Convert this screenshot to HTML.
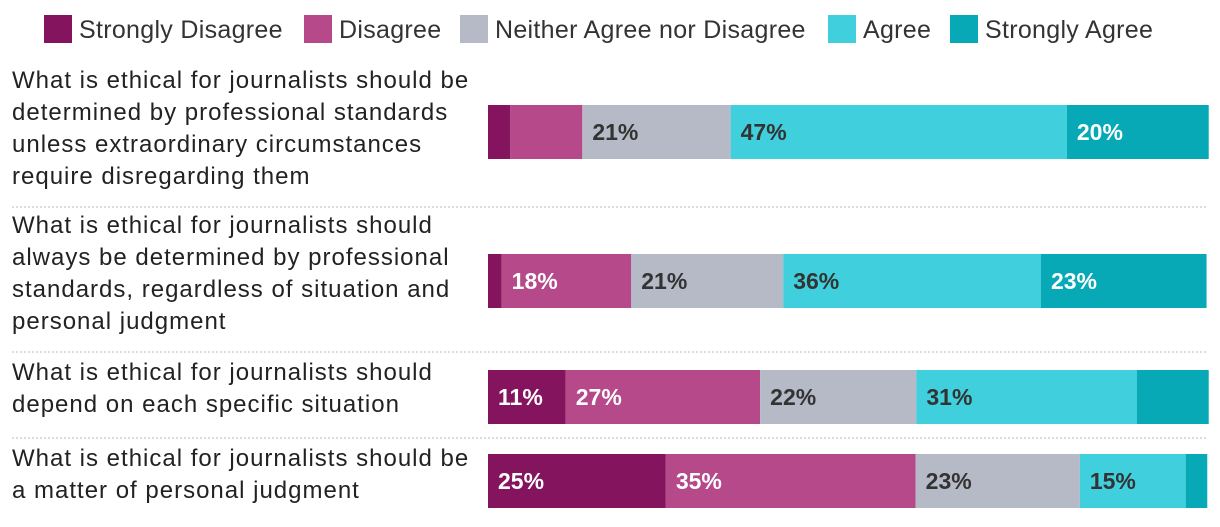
<!DOCTYPE html>
<html><head><meta charset="utf-8"><style>
body{margin:0;background:#fff;width:1220px;height:522px;overflow:hidden;font-family:"Liberation Sans",sans-serif;}
</style></head><body>
<svg width="1220" height="522" id="chart" xmlns="http://www.w3.org/2000/svg"></svg>
<script>
const categories=["Strongly Disagree","Disagree","Neither Agree nor Disagree","Agree","Strongly Agree"];
const questions=[
["What is ethical for journalists should be","determined by professional standards","unless extraordinary circumstances","require disregarding them"],
["What is ethical for journalists should","always be determined by professional","standards, regardless of situation and","personal judgment"],
["What is ethical for journalists should","depend on each specific situation"],
["What is ethical for journalists should be","a matter of personal judgment"]];
const sdVals=[3.1,1.9,10.8,24.7];
const dVals=[10,18,27,34.7];
const nVals=[20.6,21.1,21.7,22.8];
const aVals=[46.7,35.8,30.6,14.7];
const saVals=[19.7,23,10,3];
const labels=[["","","21%","47%","20%"],["","18%","21%","36%","23%"],["11%","27%","22%","31%",""],["25%","35%","23%","15%",""]];
const colors=["#85145e","#b5498a","#b5bac6","#40cfdc","#06a9b5"];
const textColors=["#fff","#fff","#333","#333","#fff"];
const barTops=[105,254,370,454];
const textTops=[88,233,380,466];
const seps=[207,352,438];
const svg=document.getElementById('chart');
const NS="http://www.w3.org/2000/svg";
function mk(t,a){const e=document.createElementNS(NS,t);for(const k in a)e.setAttribute(k,a[k]);svg.appendChild(e);return e;}
const x0=488,W=720,bh=54;
function xs(v){return v/100*W;}
const legX=[44,304,460,828,950];
categories.forEach((c,i)=>{
 const r=mk('rect',{x:legX[i],y:15,width:28,height:28,fill:colors[i]});
 
 
 const t=mk('text',{x:legX[i]+35,y:38,'font-size':25,fill:'#333','letter-spacing':0.3});t.textContent=c;
 
 
});
seps.forEach(y=>{const l=mk('line',{x1:12,x2:1208,y1:y,y2:y,stroke:'#bbb','stroke-dasharray':'2,2'});
 
 });
const series=[sdVals,dVals,nVals,aVals,saVals];
questions.forEach((q,r)=>{
 q.forEach((line,j)=>{const t=mk('text',{x:12,y:textTops[r]+j*32,'font-size':24,fill:'#222','letter-spacing':1});t.textContent=line;
  
  });
 let x=x0;
 series.forEach((s,i)=>{
  const w=xs(s[r]);
  const b=mk('rect',{x:x,y:barTops[r],width:w,height:bh,fill:colors[i]});
  
  
  if(labels[r][i]){const t=mk('text',{x:x+10,y:barTops[r]+35,'font-size':23,'font-weight':'bold',fill:textColors[i]});t.textContent=labels[r][i];
   
   }
  x+=w;
 });
});
</script>
</body></html>
